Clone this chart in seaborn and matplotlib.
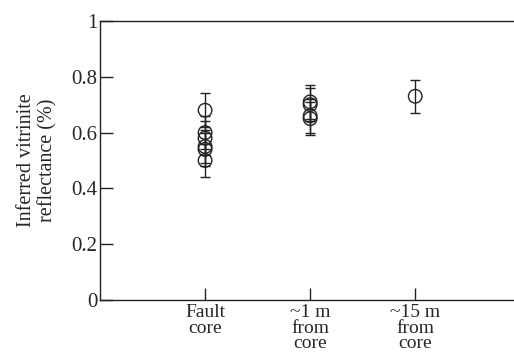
import matplotlib
matplotlib.use("Agg")
import matplotlib.pyplot as plt
import pandas as pd
import seaborn as sns

# site categories and tick labels
sites = ["Fault core", "~1 m from core", "~15 m from core"]
tick_labels = ["Fault\ncore", "~1 m\nfrom\ncore", "~15 m\nfrom\ncore"]

# inferred vitrinite reflectance (%) per sample, with +/- error
fault_core = [0.68, 0.60, 0.58, 0.55, 0.54, 0.50]
near_1m = [0.71, 0.70, 0.66, 0.65]
near_15m = [0.73]
err = 0.06

rows = []
for i, vals in enumerate([fault_core, near_1m, near_15m]):
    for v in vals:
        rows.append({"site": sites[i], "pos": i + 1, "ro": v})
df = pd.DataFrame(rows)

sns.set_style("ticks")
plt.rcParams["font.family"] = ["Liberation Serif", "DejaVu Serif"]

fig = plt.figure(figsize=(5.14, 3.61), dpi=100)
ax = fig.add_axes([0.1946, 0.169, 0.8054, 0.773])

ink = "#222222"
ax.errorbar(df["pos"], df["ro"], yerr=err, fmt="none", ecolor=ink,
            elinewidth=1.0, capsize=3.8, capthick=1.0, zorder=2)
sns.scatterplot(data=df, x="pos", y="ro", ax=ax, marker="o", s=95,
                facecolors="none", edgecolor=ink, linewidth=1.0,
                zorder=3, legend=False)

ax.set_xlim(0, 3.94)
ax.set_ylim(0, 1)
ax.set_xticks([1, 2, 3])
ax.set_xticklabels(tick_labels, fontsize=14, linespacing=0.88)
ax.set_yticks([0, 0.2, 0.4, 0.6, 0.8, 1])
ax.set_yticklabels(["0", "0.2", "0.4", "0.6", "0.8", "1"], fontsize=15)
ax.tick_params(axis="y", direction="in", length=9, width=1, color=ink, pad=2)
ax.tick_params(axis="x", direction="in", length=9, width=1, color=ink, pad=3)
ax.set_xlabel("")
ax.set_ylabel("Inferred vitrinite\nreflectance (%)", fontsize=14.5,
              linespacing=1.1, labelpad=10)

for side in ["left", "top", "bottom"]:
    ax.spines[side].set_color(ink)
    ax.spines[side].set_linewidth(1.0)
ax.spines["right"].set_visible(False)

fig.savefig("out.png", dpi=100)
